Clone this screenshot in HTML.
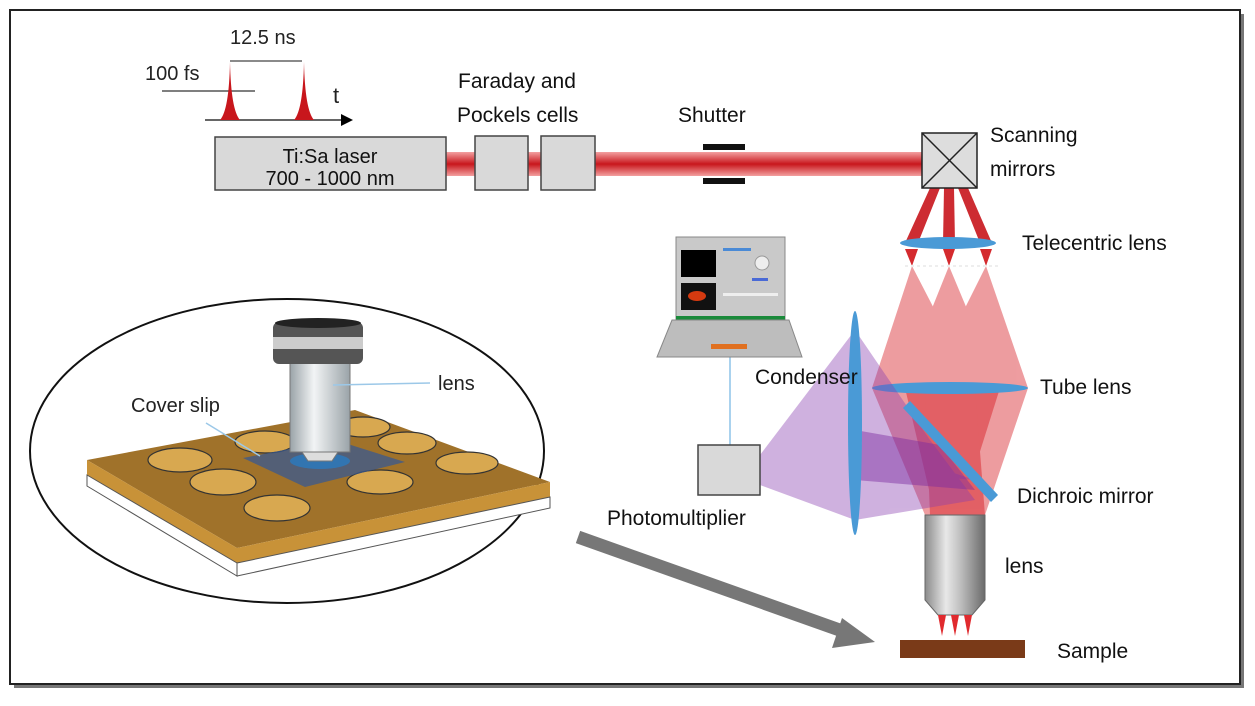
<!DOCTYPE html>
<html><head><style>
body{margin:0;background:#fff;}
svg{display:block;font-family:"Liberation Sans",sans-serif;}
</style></head><body>
<svg width="1255" height="706" viewBox="0 0 1255 706" xmlns="http://www.w3.org/2000/svg">
<defs>
<linearGradient id="obj" x1="0" x2="1"><stop offset="0" stop-color="#8a8a8a"/><stop offset="0.35" stop-color="#e8e8e8"/><stop offset="0.6" stop-color="#bdbdbd"/><stop offset="1" stop-color="#6a6a6a"/></linearGradient>
<linearGradient id="obj2" x1="0" x2="1"><stop offset="0" stop-color="#9aa3a8"/><stop offset="0.4" stop-color="#f2f4f5"/><stop offset="1" stop-color="#9aa3a8"/></linearGradient>
<linearGradient id="beam" x1="0" y1="0" x2="0" y2="1"><stop offset="0" stop-color="#f3a0a0"/><stop offset="0.5" stop-color="#c8161c"/><stop offset="1" stop-color="#f3a0a0"/></linearGradient>
<marker id="ar" markerWidth="8" markerHeight="8" refX="6" refY="4" orient="auto"><path d="M0,0 L8,4 L0,8z" fill="#000"/></marker>
</defs>
<rect x="0" y="0" width="1255" height="706" fill="#fff"/>
<rect x="14" y="14" width="1230" height="674" fill="#777"/>
<rect x="10" y="10" width="1230" height="674" fill="#fff" stroke="#222" stroke-width="2"/>

<!-- pulses -->
<line x1="205" y1="120" x2="350" y2="120" stroke="#333" stroke-width="1.5" marker-end="url(#ar)"/>
<line x1="162" y1="91" x2="255" y2="91" stroke="#555" stroke-width="1.5"/>
<line x1="230" y1="61" x2="302" y2="61" stroke="#444" stroke-width="1.2"/>
<path d="M220,120 Q229,110 230,62 Q231,110 240,120z" fill="#c8161c"/>
<path d="M294,120 Q303,110 304,62 Q305,110 314,120z" fill="#c8161c"/>
<text x="230" y="44" font-size="20" fill="#222">12.5 ns</text>
<text x="145" y="80" font-size="20" fill="#222">100 fs</text>
<text x="333" y="103" font-size="22" fill="#222">t</text>

<!-- laser beam -->
<rect x="446" y="152" width="478" height="24" fill="url(#beam)"/>
<rect x="215" y="137" width="231" height="53" fill="#d9d9d9" stroke="#444" stroke-width="1.5"/>
<text x="330" y="163" font-size="20" text-anchor="middle" fill="#111">Ti:Sa laser</text>
<text x="330" y="185" font-size="20" text-anchor="middle" fill="#111">700 - 1000 nm</text>
<rect x="475" y="136" width="53" height="54" fill="#d9d9d9" stroke="#444" stroke-width="1.5"/>
<rect x="541" y="136" width="54" height="54" fill="#d9d9d9" stroke="#444" stroke-width="1.5"/>
<text x="458" y="88" font-size="21" fill="#111">Faraday and</text>
<text x="457" y="122" font-size="21" fill="#111">Pockels cells</text>
<rect x="703" y="144" width="42" height="6" fill="#111"/>
<rect x="703" y="178" width="42" height="6" fill="#111"/>
<text x="678" y="122" font-size="21" fill="#111">Shutter</text>

<!-- red beams -->
<g fill="#c8161c" opacity="0.9">
<polygon points="930,188 940,188 918,243 905,243"/>
<polygon points="944,188 954,188 955,243 943,243"/>
<polygon points="958,188 968,188 992,243 980,243"/>
</g>
<g fill="#d42a2e">
<polygon points="905,249 918,249 912,266"/>
<polygon points="943,249 955,249 949,266"/>
<polygon points="980,249 992,249 986,266"/>
</g>
<g fill="#d9262c" opacity="0.45">
<polygon points="912,266 872,388 975,388"/>
<polygon points="949,266 900,388 1000,388"/>
<polygon points="986,266 925,388 1028,388"/>
<polygon points="872,388 1028,388 985,515 925,515"/>
</g>
<g fill="#d9262c" opacity="0.5">
<polygon points="905,388 1000,388 960,515 935,515"/>
<polygon points="925,388 975,388 985,515 930,515"/>
</g>
<line x1="905" y1="266" x2="1000" y2="266" stroke="#eee" stroke-width="2" stroke-dasharray="3,3"/>
<ellipse cx="948" cy="243" rx="48" ry="6" fill="#4a9ad6"/>
<ellipse cx="950" cy="388" rx="78" ry="6" fill="#4a9ad6"/>

<!-- scanning mirror -->
<rect x="922" y="133" width="55" height="55" fill="#ddd" stroke="#222" stroke-width="1.5"/>
<line x1="922" y1="133" x2="977" y2="188" stroke="#222" stroke-width="1.5"/>
<line x1="977" y1="133" x2="922" y2="188" stroke="#222" stroke-width="1.5"/>
<text x="990" y="142" font-size="21" fill="#111">Scanning</text>
<text x="990" y="176" font-size="21" fill="#111">mirrors</text>
<text x="1022" y="250" font-size="21" fill="#111">Telecentric lens</text>
<text x="1040" y="394" font-size="21" fill="#111">Tube lens</text>

<!-- purple beams -->
<g fill="#8a3fb0" opacity="0.4">
<polygon points="760,455 855,330 855,520 760,485"/>
<polygon points="855,330 855,520 975,500 930,440"/>
<polygon points="760,462 855,440 975,480 855,470 760,478"/>
</g>
<g fill="#7a2aa0" opacity="0.45">
<polygon points="855,430 855,480 975,490 940,445"/>
</g>
<ellipse cx="855" cy="423" rx="7" ry="112" fill="#4a9ad6"/>
<polygon points="903,408 910,401 998,495 991,502" fill="#4a9ad6"/>
<text x="755" y="384" font-size="21" fill="#111">Condenser</text>
<text x="1017" y="503" font-size="21" fill="#111">Dichroic mirror</text>

<!-- photomultiplier -->
<line x1="730" y1="357" x2="730" y2="445" stroke="#8ec3e8" stroke-width="1.5"/>
<rect x="698" y="445" width="62" height="50" fill="#d9d9d9" stroke="#444" stroke-width="1.5"/>
<text x="607" y="525" font-size="21" fill="#111">Photomultiplier</text>

<!-- laptop -->
<rect x="676" y="237" width="109" height="82" fill="#c9c9c9" stroke="#888"/>
<rect x="681" y="250" width="35" height="27" fill="#000"/>
<rect x="681" y="283" width="35" height="27" fill="#111"/>
<ellipse cx="697" cy="296" rx="9" ry="5" fill="#d43a10"/>
<circle cx="762" cy="263" r="7" fill="#eee" stroke="#999"/>
<rect x="723" y="248" width="28" height="3" fill="#4a8ad6"/>
<rect x="752" y="278" width="16" height="3" fill="#4a6ad6"/>
<rect x="723" y="293" width="55" height="3" fill="#eee"/>
<rect x="676" y="316" width="109" height="4" fill="#1a8a3a"/>
<polygon points="672,320 789,320 802,357 657,357" fill="#bdbdbd" stroke="#888"/>
<rect x="711" y="344" width="36" height="5" fill="#e07020"/>

<!-- objective -->
<path d="M925,515 H985 V600 L972,615 H938 L925,600z" fill="url(#obj)" stroke="#666"/>
<g fill="#e02a2e">
<polygon points="938,615 946,615 942,636"/>
<polygon points="951,615 959,615 955,636"/>
<polygon points="964,615 972,615 968,636"/>
</g>
<rect x="900" y="640" width="125" height="18" fill="#7a3a18"/>
<text x="1005" y="573" font-size="21" fill="#111">lens</text>
<text x="1057" y="658" font-size="21" fill="#111">Sample</text>

<!-- gray arrow -->
<line x1="578" y1="537" x2="848" y2="633" stroke="#777" stroke-width="13"/>
<polygon points="875,642 842,618 832,648" fill="#777"/>

<!-- ellipse inset -->
<ellipse cx="287" cy="451" rx="257" ry="152" fill="#fff" stroke="#111" stroke-width="2"/>
<polygon points="87,460 355,410 550,482 237,548" fill="#a0722a"/>
<polygon points="87,460 237,548 237,563 87,475" fill="#c89238"/>
<polygon points="237,548 550,482 550,497 237,563" fill="#c89238"/>
<polygon points="87,475 237,563 237,576 87,486" fill="#fff" stroke="#555"/>
<polygon points="237,563 550,497 550,508 237,576" fill="#fff" stroke="#555"/>
<g fill="#d8a850" stroke="#333" stroke-width="1.2">
<ellipse cx="180" cy="460" rx="32" ry="12"/>
<ellipse cx="223" cy="482" rx="33" ry="13"/>
<ellipse cx="277" cy="508" rx="33" ry="13"/>
<ellipse cx="265" cy="442" rx="30" ry="11"/>
<ellipse cx="363" cy="427" rx="27" ry="10"/>
<ellipse cx="407" cy="443" rx="29" ry="11"/>
<ellipse cx="467" cy="463" rx="31" ry="11"/>
<ellipse cx="380" cy="482" rx="33" ry="12"/>
</g>
<polygon points="243,458 335,440 405,462 305,487" fill="#3a5a90" opacity="0.75"/>
<ellipse cx="320" cy="461" rx="30" ry="8" fill="#2a7ac0" opacity="0.8"/>
<rect x="290" y="360" width="60" height="92" fill="url(#obj2)" stroke="#777"/>
<path d="M302,452 H338 L332,461 H308z" fill="#ddd" stroke="#777"/>
<rect x="273" y="322" width="90" height="42" rx="6" fill="#555"/>
<rect x="273" y="337" width="90" height="12" fill="#ccc"/>
<ellipse cx="318" cy="323" rx="43" ry="5" fill="#222"/>
<line x1="333" y1="385" x2="430" y2="383" stroke="#9cc8e8" stroke-width="1.5"/>
<line x1="206" y1="423" x2="260" y2="456" stroke="#9cc8e8" stroke-width="1.5"/>
<text x="438" y="390" font-size="20" fill="#222">lens</text>
<text x="131" y="412" font-size="20" fill="#222">Cover slip</text>
</svg>
</body></html>
